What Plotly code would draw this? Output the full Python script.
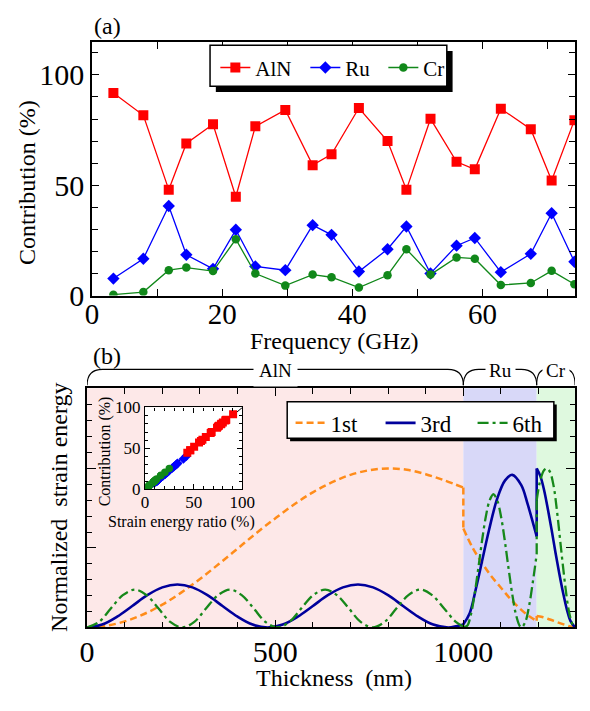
import plotly.graph_objects as go

# ---------------- data: panel (a) ----------------
freq_ghz = [3.3, 7.9, 11.8, 14.5, 18.6, 22.1, 25.1, 29.7, 33.9, 36.8,
            41.0, 45.4, 48.3, 52.0, 56.0, 58.8, 62.8, 67.4, 70.6, 74.1]
contrib_aln = [91.8, 81.7, 48.0, 68.9, 77.6, 44.8, 76.7, 84.1, 59.1, 64.0,
               85.0, 70.0, 48.0, 80.1, 60.6, 57.2, 84.7, 75.4, 52.1, 79.5]
contrib_ru = [7.7, 16.7, 40.6, 18.5, 12.1, 29.8, 13.2, 11.5, 31.9, 27.5,
              10.9, 21.0, 31.3, 10.0, 22.6, 26.1, 10.6, 18.9, 37.3, 15.3]
contrib_cr = [0.4, 1.6, 11.5, 12.7, 11.1, 25.5, 10.0, 4.5, 9.5, 8.3,
              3.6, 9.2, 21.0, 9.5, 17.3, 16.7, 4.8, 5.7, 11.2, 5.1]

# inset: strain energy ratio (%)
ratio_aln = [90.5, 80.0, 46.5, 67.5, 76.0, 43.5, 75.0, 82.5, 57.5, 62.5,
             83.5, 68.5, 46.5, 78.5, 59.0, 55.5, 83.0, 74.0, 50.5, 78.0]
ratio_ru = [9.5, 18.5, 42.5, 20.5, 14.0, 31.5, 15.0, 13.5, 33.5, 29.5,
            13.0, 23.0, 33.0, 12.0, 24.5, 28.0, 12.5, 21.0, 39.5, 17.0]
ratio_cr = [0.5, 1.5, 11.0, 12.0, 10.5, 25.0, 9.5, 4.0, 9.0, 8.0,
            3.5, 8.5, 20.5, 9.0, 16.5, 16.0, 4.5, 5.0, 10.5, 4.5]
diag = [0, 100]

# ---------------- data: panel (b) ----------------
layer_names = ["AlN", "Ru", "Cr"]
layer_bounds = [0, 1000, 1195, 1297]

# 1st mode
m1_aln_x = [0, 50, 100, 150, 200, 250, 300, 350, 400, 450, 500, 550, 600,
            650, 700, 750, 800, 850, 900, 950, 1000]
m1_aln_y = [0.0, 0.010, 0.038, 0.083, 0.144, 0.219, 0.305, 0.399, 0.496, 0.594,
            0.686, 0.773, 0.850, 0.912, 0.960, 0.989, 1.000, 0.992, 0.964, 0.925, 0.880]
m1_ru_x = [1000, 1025, 1050, 1075, 1100, 1125, 1150, 1175, 1195]
m1_ru_y = [0.622, 0.500, 0.405, 0.320, 0.250, 0.180, 0.120, 0.070, 0.042]
m1_cr_x = [1195, 1210, 1230, 1250, 1270, 1285, 1297]
m1_cr_y = [0.072, 0.066, 0.050, 0.033, 0.017, 0.006, 0.0]

# 3rd mode
m3_aln_x = [0, 40, 80, 120, 160, 200, 240, 280, 320, 360, 400, 440, 480,
            520, 560, 600, 640, 680, 720, 760, 800, 840, 880, 920, 960, 1000]
m3_aln_y = [0.0, 0.018, 0.068, 0.135, 0.203, 0.252, 0.270, 0.252, 0.203, 0.135,
            0.068, 0.018, 0.0, 0.018, 0.068, 0.135, 0.203, 0.252, 0.270, 0.252,
            0.203, 0.135, 0.068, 0.018, 0.0, 0.018]
m3_ru_x = [1000, 1017, 1034, 1051, 1068, 1090, 1111, 1130, 1154, 1171, 1195]
m3_ru_y = [0.020, 0.090, 0.250, 0.430, 0.610, 0.810, 0.925, 0.960, 0.895, 0.775, 0.572]
m3_cr_x = [1195, 1205, 1215, 1225, 1235, 1245, 1255, 1265, 1275, 1285, 1297]
m3_cr_y = [1.0, 0.95, 0.86, 0.74, 0.61, 0.47, 0.34, 0.22, 0.115, 0.04, 0.0]

# 6th mode
m6_aln_x = [0, 32, 63, 95, 127, 158, 190, 221, 253, 285, 316, 348, 380, 411, 443,
            474, 506, 538, 569, 601, 633, 664, 696, 727, 759, 791, 822, 854, 886,
            917, 949, 980, 1000]
m6_aln_y = [0.0, 0.035, 0.119, 0.203, 0.238, 0.203, 0.119, 0.035, 0.0, 0.035, 0.119,
            0.203, 0.238, 0.203, 0.119, 0.035, 0.0, 0.035, 0.119, 0.203, 0.238, 0.203,
            0.119, 0.035, 0.0, 0.035, 0.119, 0.203, 0.238, 0.203, 0.119, 0.035, 0.006]
m6_ru_x = [1000, 1010, 1020, 1030, 1040, 1050, 1060, 1070, 1080, 1090, 1100, 1110,
           1120, 1130, 1140, 1150, 1155, 1165, 1175, 1185, 1195]
m6_ru_y = [0.005, 0.010, 0.080, 0.210, 0.375, 0.550, 0.700, 0.800, 0.838, 0.800, 0.700,
           0.550, 0.375, 0.210, 0.080, 0.009, 0.0, 0.036, 0.138, 0.290, 0.460]
m6_cr_x = [1195, 1205, 1215, 1222, 1230, 1240, 1250, 1260, 1270, 1280, 1290, 1297]
m6_cr_y = [0.80, 0.93, 0.99, 1.0, 0.98, 0.89, 0.71, 0.49, 0.28, 0.11, 0.02, 0.0]

# ---------------- styling ----------------
W, H = 590, 711
SERIF = "Liberation Serif"
NB = "\u00a0"


def px(v):
    return v / W


def py(v):
    return 1 - v / H


RED, BLUE, GREEN = "#FF0000", "#0000FF", "#11881A"
C1, C3, C6 = "#FF8C1A", "#00009C", "#16881A"

fig = go.Figure()

# ---- panel (a)
for name, ys, col, sym, sz, lw in [("AlN", contrib_aln, RED, "square", 10, 45),
                                   ("Ru", contrib_ru, BLUE, "diamond", 9.5, 33),
                                   ("Cr", contrib_cr, GREEN, "circle", 8.5, 26)]:
    fig.add_trace(go.Scatter(x=freq_ghz, y=ys, name=name, mode="lines+markers",
                             line=dict(color=col, width=1.3),
                             marker=dict(symbol=sym, size=sz, color=col),
                             legendwidth=lw,
                             xaxis="x", yaxis="y", legend="legend"))

# ---- panel (b)
modes = [
    ("1st", C1, 2.5, "7px,4px", 45, [(m1_aln_x, m1_aln_y), (m1_ru_x, m1_ru_y), (m1_cr_x, m1_cr_y)]),
    ("3rd", C3, 2.6, "solid", 47, [(m3_aln_x, m3_aln_y), (m3_ru_x, m3_ru_y), (m3_cr_x, m3_cr_y)]),
    ("6th", C6, 2.3, "11px,4px,3px,4px", 32, [(m6_aln_x, m6_aln_y), (m6_ru_x, m6_ru_y), (m6_cr_x, m6_cr_y)]),
]
for name, col, wd, dash, lw, segs in modes:
    for i, (sx, sy) in enumerate(segs):
        fig.add_trace(go.Scatter(x=sx, y=sy, name=name, mode="lines",
                                 line=dict(color=col, width=wd, dash=dash, shape="spline", smoothing=1),
                                 showlegend=(i == 0), legendwidth=lw,
                                 xaxis="x2", yaxis="y2", legend="legend2"))
        if i > 0:
            px_prev, py_prev = segs[i - 1]
            fig.add_trace(go.Scatter(x=[px_prev[-1], sx[0]], y=[py_prev[-1], sy[0]],
                                     mode="lines", line=dict(color=col, width=wd, dash=dash),
                                     showlegend=False, xaxis="x2", yaxis="y2"))

# ---- inset
fig.add_trace(go.Scatter(x=diag, y=diag, mode="lines", line=dict(color="black", width=1),
                         showlegend=False, xaxis="x3", yaxis="y3"))
for xs, ys, col, sym, sz in [(ratio_ru, contrib_ru, BLUE, "diamond", 7.5),
                             (ratio_cr, contrib_cr, GREEN, "circle", 7.5),
                             (ratio_aln, contrib_aln, RED, "square", 8)]:
    fig.add_trace(go.Scatter(x=xs, y=ys, mode="markers",
                             marker=dict(symbol=sym, size=sz, color=col),
                             showlegend=False, xaxis="x3", yaxis="y3"))


# ---------------- axes ----------------
def ax(**kw):
    d = dict(showline=True, linecolor="black", linewidth=1.5, mirror="allticks",
             ticks="inside", tickcolor="black", tickwidth=1.2, showgrid=False,
             zeroline=False, tickfont=dict(family=SERIF, size=30, color="black"))
    d.update(kw)
    return d


fig.update_layout(
    width=W, height=H, margin=dict(l=0, r=0, t=0, b=0),
    paper_bgcolor="white", plot_bgcolor="white",
    xaxis=ax(domain=[px(87), px(588)], range=[0, 74.2], tick0=0, dtick=20, ticklen=7,
             ticklabelstandoff=-8, tickfont=dict(family=SERIF, size=29, color="black"),
             minor=dict(dtick=10, ticklen=7, ticks="inside", tickcolor="black"), anchor="y"),
    yaxis=ax(domain=[py(297), py(34)], range=[0, 115], tick0=0, dtick=50, ticklen=7,
             minor=dict(dtick=10, ticklen=6, ticks="inside", tickcolor="black"), anchor="x"),
    xaxis2=ax(domain=[px(82), px(588)], range=[0, layer_bounds[-1]], tick0=0, dtick=500, ticklen=8,
              ticklabelstandoff=-3,
              minor=dict(dtick=100, ticklen=6, ticks="inside", tickcolor="black"), anchor="y2"),
    yaxis2=ax(domain=[py(641), py(393)], range=[0, 1.505], tick0=0, dtick=0.5, ticklen=9,
              showticklabels=False,
              minor=dict(dtick=0.1, ticklen=5, ticks="inside", tickcolor="black"), anchor="x2"),
    xaxis3=ax(domain=[px(142), px(243)], range=[0, 100], tick0=0, dtick=50, ticklen=5,
              linewidth=1.2, tickfont=dict(family=SERIF, size=17, color="black"),
              ticklabelstandoff=-3,
              minor=dict(dtick=10, ticklen=3, ticks="inside", tickcolor="black"), anchor="y3"),
    yaxis3=ax(domain=[py(498), py(413)], range=[0, 100], tick0=0, dtick=50, ticklen=5,
              linewidth=1.2, tickfont=dict(family=SERIF, size=17, color="black"),
              minor=dict(dtick=10, ticklen=3, ticks="inside", tickcolor="black"), anchor="x3"),
    legend=dict(orientation="h", x=px(215), y=py(61), xanchor="left", yanchor="middle",
                traceorder="normal", bgcolor="rgba(0,0,0,0)", borderwidth=0,
                font=dict(family=SERIF, size=21, color="black")),
    legend2=dict(orientation="h", x=px(293), y=py(429), xanchor="left", yanchor="middle",
                 traceorder="normal", bgcolor="rgba(0,0,0,0)", borderwidth=0,
                 font=dict(family=SERIF, size=23, color="black")),
)

shapes = []
# layer shading
shade = ["#FDE8E8", "#D8D8F8", "#DFF9DF"]
for i, nm in enumerate(layer_names):
    shapes.append(dict(type="rect", xref="x2", yref="y2 domain", x0=layer_bounds[i], x1=layer_bounds[i + 1],
                       y0=0, y1=1, fillcolor=shade[i], line=dict(width=0), layer="below"))
# inset background
shapes.append(dict(type="rect", xref="x3 domain", yref="y3 domain", x0=0, x1=1, y0=0, y1=1,
                   fillcolor="white", line=dict(width=0), layer="below"))
# legend boxes with drop shadows
for (bx0, by0, bx1, by1, off) in [(209.5, 37.5, 455, 80, 6), (289.5, 407, 566, 445, 3)]:
    shapes.append(dict(type="rect", xref="paper", yref="paper", x0=px(bx0 + off), x1=px(bx1 + off),
                       y0=py(by1 + off), y1=py(by0 + off), fillcolor="black", line=dict(width=0), layer="above"))
    shapes.append(dict(type="rect", xref="paper", yref="paper", x0=px(bx0), x1=px(bx1),
                       y0=py(by1), y1=py(by0), fillcolor="white", line=dict(color="black", width=1.5),
                       layer="above"))
# layer braces
nm_per_px = layer_bounds[-1] / (588 - 82)
yb, yt = py(390), py(373.5)
annotations = []
for i, nm in enumerate(layer_names):
    a, b = layer_bounds[i], layer_bounds[i + 1]
    r = (16 if nm != "Cr" else 10) * nm_per_px
    path = (f"M {a},{yb} Q {a},{yt} {a + r},{yt} L {b - r},{yt} Q {b},{yt} {b},{yb}")
    shapes.append(dict(type="path", xref="x2", yref="paper", path=path,
                       line=dict(color="black", width=1.1), layer="above"))
    annotations.append(dict(x=(a + b) / 2, y=py(375), xref="x2", yref="paper", text=nm,
                            showarrow=False, font=dict(family=SERIF, size=19, color="black"),
                            bgcolor="white", borderpad=3 if nm != "AlN" else 5,
                            xanchor="center", yanchor="middle"))


def txt(x, y, t, size=24, angle=0):
    return dict(x=px(x), y=py(y), xref="paper", yref="paper", text=t, showarrow=False,
                textangle=angle, font=dict(family=SERIF, size=size, color="black"),
                xanchor="center", yanchor="middle")


annotations += [
    txt(103, 18, "(a)"),
    txt(103, 360, "(b)"),
    txt(19, 180, "Contribution (%)", angle=-90),
    txt(339, 344, "Frequency (GHz)"),
    txt(53, 517, "Normalized" + NB + " strain energy", angle=-90),
    txt(338, 693, "Thickness" + NB + " (nm)"),
    txt(100, 458, "Contribution (%)", size=16, angle=-90),
    txt(180, 532, "Strain energy ratio (%)", size=16),
]

fig.update_layout(shapes=shapes, annotations=annotations)
fig.write_html("out.html")
